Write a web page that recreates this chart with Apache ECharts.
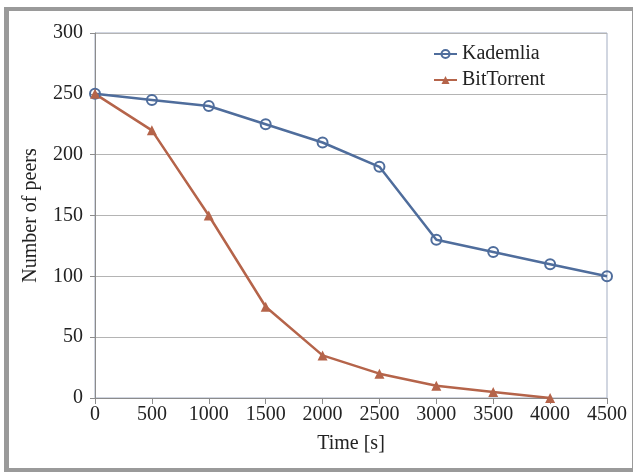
<!DOCTYPE html>
<html><head><meta charset="utf-8">
<script src="https://cdn.jsdelivr.net/npm/echarts@6/dist/echarts.min.js"></script>
<style>
html,body{margin:0;padding:0;background:#fff;}
#frame{position:absolute;left:4px;top:7px;width:629px;height:465px;background:#9a9a9a;}
#inner{position:absolute;left:9px;top:11px;width:623px;height:457px;background:#fff;}
#chart{position:absolute;left:0;top:0;width:635px;height:473px;}
</style></head>
<body>
<div id="frame"></div><div id="inner"></div>
<div id="chart"></div>
<script>
const times = [0, 500, 1000, 1500, 2000, 2500, 3000, 3500, 4000, 4500];
const kademlia = [250, 245, 240, 225, 210, 190, 130, 120, 110, 100];
const bittorrent = [250, 220, 150, 75, 35, 20, 10, 5, 0];
const seriesNames = ['Kademlia', 'BitTorrent'];
const xTitle = 'Time [s]';
const yTitle = 'Number of peers';

const blue = '#4f6d9c';
const red = '#b5644a';
const font = 'Liberation Serif';

const chart = echarts.init(document.getElementById('chart'), null, {renderer: 'canvas'});
chart.setOption({
  backgroundColor: 'transparent',
  animation: false,
  textStyle: {fontFamily: font},
  grid: {left: 95, right: 28, top: 33, bottom: 75, show: true, borderColor: '#a3adc2', borderWidth: 1, backgroundColor: 'transparent'},
  legend: {
    data: seriesNames,
    orient: 'vertical',
    left: 428, top: 39,
    itemWidth: 23, itemHeight: 10, itemGap: 6,
    textStyle: {fontFamily: font, fontSize: 20, color: '#222'}
  },
  xAxis: {
    type: 'value', min: 0, max: 4500, interval: 500,
    name: xTitle, nameLocation: 'middle', nameGap: 36,
    nameTextStyle: {fontFamily: font, fontSize: 20, color: '#222'},
    axisLine: {show: true, lineStyle: {color: '#8c8c8c', width: 1}},
    axisTick: {show: true, length: 6, inside: false, lineStyle: {color: '#8c8c8c'}},
    axisLabel: {fontFamily: font, fontSize: 20, color: '#222', margin: 7, formatter: v => String(v)},
    splitLine: {show: false}
  },
  yAxis: {
    type: 'value', min: 0, max: 300, interval: 50,
    name: yTitle, nameLocation: 'middle', nameGap: 54, nameRotate: 90,
    nameTextStyle: {fontFamily: font, fontSize: 20, color: '#222'},
    axisLine: {show: true, lineStyle: {color: '#8c8c8c', width: 1}},
    axisTick: {show: true, length: 5, lineStyle: {color: '#8c8c8c'}},
    axisLabel: {fontFamily: font, fontSize: 20, color: '#222', margin: 12},
    splitLine: {show: true, lineStyle: {color: '#b4b4b4', width: 1}}
  },
  series: [
    {
      name: seriesNames[0], type: 'line',
      data: times.map((t, i) => [t, kademlia[i]]),
      symbol: 'circle', symbolSize: 10,
      lineStyle: {color: blue, width: 2.5},
      itemStyle: {color: 'rgba(255,255,255,0)', borderColor: blue, borderWidth: 2}
    },
    {
      name: seriesNames[1], type: 'line',
      data: bittorrent.map((v, i) => [times[i], v]),
      symbol: 'triangle', symbolSize: 10,
      lineStyle: {color: red, width: 2.5},
      itemStyle: {color: red}
    }
  ]
});
</script>
</body></html>
